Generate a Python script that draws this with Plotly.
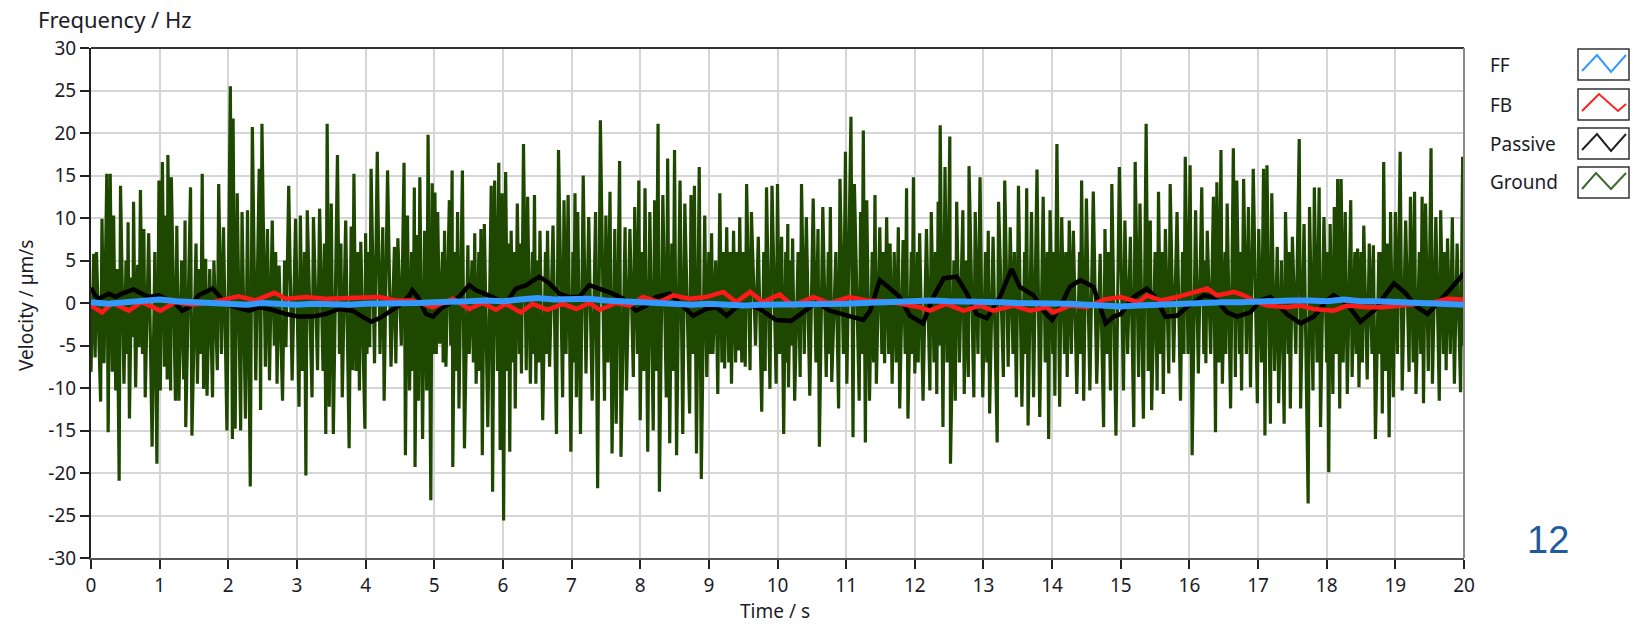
import plotly.graph_objects as go

# ---------------- data (time in s, velocity in um/s) ----------------
ground_0_5 = [(0.00,-8.1),(0.04,5.8),(0.06,-6.4),(0.08,6.0),(0.14,-11.6),(0.16,9.9),(0.19,-7.1),(0.23,15.2),(0.25,-15.2),(0.28,15.2),(0.31,-8.1),(0.33,10.3),(0.36,-10.3),(0.38,4.0),(0.41,-20.9),(0.43,13.8),(0.48,-9.5),(0.51,5.0),(0.53,-6.0),(0.54,9.5),(0.56,-13.6),(0.59,3.0),(0.61,-4.0),(0.62,11.9),(0.65,-9.9),(0.68,4.5),(0.70,-5.2),(0.72,13.3),(0.75,-6.0),(0.77,8.7),(0.79,-11.1),(0.84,8.2),(0.89,-16.9),(0.93,6.0),(0.96,-18.9),(0.99,14.4),(1.01,-10.3),(1.04,16.6),(1.07,-7.5),(1.09,10.3),(1.11,-9.0),(1.12,17.4),(1.16,-10.3),(1.17,14.8),(1.23,-11.5),(1.25,9.1),(1.28,-11.5),(1.32,5.0),(1.35,-9.0),(1.37,9.7),(1.38,-14.6),(1.45,13.6),(1.47,-15.6),(1.53,7.0),(1.55,-9.5),(1.58,4.0),(1.60,-6.0),(1.62,15.2),(1.64,-10.1),(1.67,5.2),(1.69,-10.9),(1.73,4.0),(1.77,-11.1),(1.79,5.0),(1.84,-7.9),(1.86,14.0),(1.90,-6.0),(1.93,8.9),(1.98,-15.0),(2.03,25.5),(2.06,-16.0),(2.07,21.7),(2.10,-14.8),(2.13,12.9),(2.18,-15.0),(2.20,10.7),(2.25,-13.6),(2.28,10.9),(2.32,-21.6),(2.35,20.7),(2.40,-9.1),(2.45,15.8),(2.47,-12.6),(2.49,21.1),(2.54,-7.5),(2.57,8.7),(2.60,-9.1),(2.64,9.7),(2.67,-5.0),(2.69,6.0),(2.71,-9.5),(2.74,4.4),(2.79,-11.5),(2.82,5.0),(2.84,-5.2),(2.88,13.8),(2.93,-9.1),(2.98,9.9),(3.03,-12.2),(3.05,10.3),(3.08,-8.0),(3.11,6.0),(3.13,-20.3),(3.15,10.9),(3.22,-11.1),(3.24,10.1),(3.30,-7.9),(3.33,11.1),(3.38,-8.0),(3.40,7.0),(3.42,-15.4),(3.44,21.1),(3.47,-12.2),(3.50,11.7),(3.53,-15.4),(3.59,17.4),(3.62,-6.0),(3.64,7.0),(3.66,-11.1),(3.71,9.7),(3.76,-17.1),(3.79,9.0),(3.81,-7.9),(3.83,15.2),(3.86,-8.0),(3.89,6.0),(3.91,-10.3),(3.93,7.2),(3.99,-14.8),(4.00,8.2),(4.02,-6.0),(4.05,6.0),(4.06,-5.2),(4.08,15.8),(4.13,-7.1),(4.17,17.8),(4.21,-6.0),(4.25,8.9),(4.27,-11.5),(4.32,15.6),(4.37,-7.5),(4.42,6.6),(4.44,-7.1),(4.47,7.6),(4.52,-5.0),(4.56,16.5),(4.58,-17.9),(4.61,10.3),(4.64,-10.3),(4.67,6.0),(4.69,-8.0),(4.71,13.6),(4.72,-19.3),(4.75,8.0),(4.77,-11.5),(4.79,14.8),(4.83,-16.0),(4.86,8.5),(4.89,-10.3),(4.91,19.8),(4.95,-23.2),(4.97,14.1),(4.99,-6.0)]

ground_5_10 = [(5.01,13.0),(5.03,-6.0),(5.05,10.7),(5.08,-4.8),(5.12,6.0),(5.13,-7.0),(5.15,8.5),(5.17,-7.5),(5.22,12.1),(5.24,-5.0),(5.26,15.6),(5.27,-19.3),(5.30,6.0),(5.32,-8.0),(5.34,10.7),(5.36,-12.4),(5.41,15.6),(5.44,-17.1),(5.49,6.8),(5.51,-6.0),(5.55,5.0),(5.57,-7.0),(5.59,8.2),(5.61,-9.5),(5.65,6.0),(5.66,-8.0),(5.68,8.7),(5.70,-17.9),(5.73,9.3),(5.78,-14.6),(5.83,13.8),(5.85,-22.2),(5.88,14.4),(5.92,-8.0),(5.94,16.5),(5.96,-17.3),(5.99,12.9),(6.01,-25.6),(6.04,15.4),(6.07,-8.0),(6.08,7.0),(6.10,-17.5),(6.12,8.5),(6.15,-7.0),(6.16,6.0),(6.18,-12.4),(6.21,11.7),(6.24,-6.0),(6.25,7.0),(6.27,-8.3),(6.30,18.7),(6.34,-7.9),(6.36,12.5),(6.40,-9.5),(6.43,6.0),(6.44,-6.0),(6.46,12.7),(6.48,-9.5),(6.51,5.0),(6.52,-7.0),(6.54,8.5),(6.58,-13.8),(6.62,6.0),(6.63,-6.0),(6.65,8.5),(6.68,-7.5),(6.73,9.1),(6.78,-15.4),(6.81,18.0),(6.87,-11.1),(6.89,12.1),(6.92,-6.0),(6.95,12.7),(6.99,-17.5),(7.02,6.0),(7.03,-7.0),(7.05,12.9),(7.07,-11.1),(7.09,10.7),(7.13,-15.4),(7.17,15.0),(7.21,-8.3),(7.25,10.1),(7.30,-11.5),(7.35,10.7),(7.38,-21.8),(7.42,21.5),(7.48,-11.5),(7.50,10.3),(7.53,-7.0),(7.56,13.1),(7.59,-17.7),(7.63,8.7),(7.65,-14.2),(7.70,16.7),(7.72,-18.1),(7.78,8.9),(7.80,-10.3),(7.85,8.7),(7.90,-8.7),(7.92,11.3),(7.96,-6.0),(7.98,14.4),(8.00,-13.8),(8.03,6.0),(8.05,-8.0),(8.07,13.5),(8.11,-17.5),(8.14,10.7),(8.19,-15.0),(8.21,12.1),(8.23,-8.0),(8.26,21.1),(8.28,-22.2),(8.33,12.7),(8.38,-11.1),(8.40,17.0),(8.43,-16.5),(8.46,7.0),(8.48,-8.0),(8.50,18.0),(8.53,-17.9),(8.58,14.4),(8.62,-15.4),(8.65,11.7),(8.72,-13.0),(8.74,12.7),(8.77,-6.0),(8.79,13.8),(8.82,-17.7),(8.86,16.0),(8.89,-20.7),(8.94,10.3),(8.97,-8.7),(9.00,6.0),(9.02,-6.0),(9.04,8.2),(9.06,-6.0),(9.10,5.0),(9.13,-10.7),(9.16,12.9),(9.19,-7.0),(9.21,6.0),(9.23,-7.7),(9.26,8.9),(9.29,-7.0),(9.31,6.0),(9.33,-9.5),(9.36,8.5),(9.39,-7.0),(9.41,6.0),(9.43,-5.6),(9.45,10.1),(9.48,-7.0),(9.50,6.0),(9.53,-7.5),(9.55,14.0),(9.60,-7.9),(9.62,10.7),(9.68,-5.0),(9.72,7.8),(9.77,-12.8),(9.80,6.0),(9.82,-8.0),(9.84,13.6),(9.89,-10.1),(9.92,13.8),(9.98,-9.5),(10.00,14.0)]

ground_10_15 = [(10.03,-6.0),(10.06,7.8),(10.09,-15.4),(10.12,6.0),(10.13,-7.0),(10.15,9.3),(10.16,-9.9),(10.19,5.0),(10.20,-5.0),(10.22,7.6),(10.25,-11.5),(10.30,6.0),(10.33,-8.7),(10.35,14.0),(10.39,-6.0),(10.42,10.1),(10.47,-10.9),(10.52,12.3),(10.56,-7.0),(10.59,8.7),(10.61,-16.9),(10.66,11.3),(10.71,-8.7),(10.74,6.0),(10.75,-6.0),(10.77,11.3),(10.79,-9.3),(10.85,6.0),(10.89,-12.4),(10.91,14.6),(10.96,-6.0),(10.99,17.8),(11.01,-9.5),(11.07,21.9),(11.10,-15.8),(11.12,14.0),(11.19,-11.5),(11.21,10.7),(11.23,-6.0),(11.25,20.3),(11.28,-16.4),(11.30,12.1),(11.34,-11.5),(11.38,6.0),(11.40,-7.0),(11.42,12.7),(11.44,-9.5),(11.49,8.9),(11.52,-6.0),(11.54,6.0),(11.56,-7.1),(11.59,10.1),(11.62,-6.0),(11.64,7.0),(11.67,-9.5),(11.70,6.0),(11.73,-7.0),(11.76,8.9),(11.78,-12.4),(11.83,7.4),(11.86,-6.0),(11.88,13.5),(11.90,-13.6),(11.95,6.0),(11.96,-6.0),(11.98,14.8),(12.00,-8.3),(12.04,6.0),(12.05,-7.0),(12.07,8.2),(12.12,-11.5),(12.17,8.7),(12.22,-10.3),(12.24,10.7),(12.28,-7.0),(12.30,6.0),(12.32,-10.7),(12.34,11.9),(12.355,-5.0),(12.37,20.9),(12.41,-14.6),(12.44,16.0),(12.47,-7.0),(12.51,19.6),(12.52,-18.9),(12.57,5.0),(12.59,-11.5),(12.61,11.9),(12.65,-7.0),(12.70,10.9),(12.72,-10.7),(12.75,5.0),(12.78,-8.7),(12.79,16.1),(12.86,-11.1),(12.88,10.7),(12.92,-6.0),(12.95,14.8),(12.99,-11.1),(13.03,6.0),(13.05,-7.0),(13.07,8.5),(13.09,-13.0),(13.14,7.8),(13.20,-16.4),(13.22,11.9),(13.29,-8.7),(13.31,14.4),(13.36,-7.5),(13.39,8.9),(13.43,-6.0),(13.45,6.0),(13.48,-11.1),(13.51,13.8),(13.56,-12.2),(13.60,6.0),(13.61,-6.0),(13.63,13.5),(13.65,-14.4),(13.70,10.7),(13.73,-11.1),(13.78,15.7),(13.82,-13.4),(13.87,12.5),(13.90,-7.0),(13.93,6.0),(13.95,-16.0),(13.97,10.9),(14.01,-6.0),(14.02,6.0),(14.04,-10.9),(14.07,18.7),(14.11,-12.2),(14.14,10.1),(14.18,-6.0),(14.20,6.0),(14.22,-8.7),(14.25,9.7),(14.28,-6.0),(14.31,8.5),(14.36,-10.7),(14.40,6.0),(14.41,-6.0),(14.43,14.4),(14.46,-11.5),(14.50,12.3),(14.55,-10.3),(14.60,13.1),(14.65,-9.5),(14.70,5.8),(14.75,-14.6),(14.77,8.7),(14.80,-6.0),(14.82,6.0),(14.85,-10.3),(14.87,14.0),(14.93,-15.6),(14.98,16.0)]

ground_15_20 = [(15.04,-10.3),(15.06,9.7),(15.10,-6.0),(15.14,7.8),(15.19,-14.6),(15.21,16.6),(15.26,-8.7),(15.28,11.7),(15.33,-13.6),(15.37,21.1),(15.40,-8.0),(15.43,9.7),(15.45,-12.6),(15.50,6.0),(15.53,-10.3),(15.55,13.1),(15.58,-6.0),(15.60,6.0),(15.62,-10.7),(15.65,8.7),(15.70,-8.3),(15.72,14.0),(15.77,-7.0),(15.82,10.7),(15.87,-11.5),(15.90,6.0),(15.92,-6.0),(15.94,17.2),(15.98,-6.0),(16.01,16.2),(16.04,-17.9),(16.09,10.9),(16.13,-8.3),(16.18,13.6),(16.21,-6.0),(16.22,5.0),(16.24,-7.1),(16.26,8.5),(16.31,-6.0),(16.35,12.5),(16.38,-15.2),(16.40,14.2),(16.43,-7.0),(16.46,18.0),(16.48,-9.5),(16.52,6.0),(16.53,-6.0),(16.55,11.7),(16.60,-12.4),(16.64,18.2),(16.67,-8.7),(16.69,14.4),(16.73,-6.0),(16.74,6.0),(16.76,-10.3),(16.79,14.6),(16.83,-6.0),(16.86,11.3),(16.89,-9.9),(16.93,15.8),(16.99,-11.8),(17.01,8.7),(17.05,-7.0),(17.08,15.8),(17.10,-15.6),(17.13,16.2),(17.18,-14.2),(17.20,12.9),(17.24,-8.0),(17.28,6.6),(17.30,-11.8),(17.34,5.0),(17.38,-14.2),(17.40,10.7),(17.44,-6.0),(17.45,6.0),(17.47,-12.4),(17.50,7.8),(17.55,-6.0),(17.60,19.3),(17.62,-12.4),(17.67,9.3),(17.73,-23.6),(17.75,11.3),(17.80,-10.3),(17.82,13.6),(17.86,-7.0),(17.89,13.6),(17.91,-14.6),(17.96,10.1),(18.00,-7.0),(18.01,6.0),(18.03,-19.9),(18.05,9.3),(18.09,-10.7),(18.11,11.3),(18.14,-6.0),(18.16,14.6),(18.19,-12.4),(18.21,14.6),(18.24,-7.0),(18.27,10.7),(18.30,-10.7),(18.35,12.1),(18.37,-8.7),(18.41,6.0),(18.43,-6.0),(18.45,6.4),(18.47,-9.9),(18.50,6.0),(18.52,-7.0),(18.54,9.1),(18.59,-9.0),(18.62,7.0),(18.66,-6.0),(18.68,6.8),(18.71,-16.0),(18.76,6.0),(18.78,-6.0),(18.79,6.0),(18.81,-13.0),(18.83,16.6),(18.86,-8.0),(18.88,7.0),(18.91,-15.8),(18.93,10.7),(18.97,-11.1),(19.00,10.7),(19.03,-6.0),(19.07,17.8),(19.10,-10.3),(19.15,9.7),(19.20,-8.1),(19.22,12.5),(19.26,-7.0),(19.28,13.1),(19.30,-10.7),(19.35,6.0),(19.37,-6.0),(19.39,12.5),(19.41,-11.8),(19.44,11.7),(19.48,-8.0),(19.52,18.2),(19.54,-9.5),(19.59,10.1),(19.64,-11.5),(19.66,10.9),(19.70,-6.0),(19.72,6.0),(19.74,-7.9),(19.76,7.6),(19.80,-6.0),(19.83,10.1),(19.86,-9.5),(19.90,7.0),(19.95,-10.5),(19.98,17.2),(20.00,-5.0)]

passive_pts = [(0.00,1.8),(0.06,0.9),(0.11,0.5),(0.26,1.1),(0.36,0.7),(0.45,1.1),(0.62,1.6),(0.74,1.1),(0.84,0.7),(0.99,0.9),(1.08,0.5),(1.23,-0.1),(1.33,-0.9),(1.43,-0.5),(1.57,0.9),(1.69,1.4),(1.77,1.7),(1.86,0.9),(1.96,-0.1),(2.11,-0.5),(2.30,-0.9),(2.45,-0.5),(2.64,-0.8),(2.84,-1.3),(3.03,-1.6),(3.22,-1.6),(3.42,-1.3),(3.61,-0.7),(3.81,-0.9),(3.95,-1.6),(4.08,-2.2),(4.20,-1.8),(4.34,-1.1),(4.49,-0.3),(4.64,0.9),(4.68,1.5),(4.76,0.7),(4.88,-1.3),(4.98,-1.6),(5.12,-0.5),(5.27,0.1),(5.36,0.7),(5.51,2.1),(5.61,1.5),(5.73,1.1),(5.85,0.7),(6.04,-0.1),(6.19,1.7),(6.34,2.1),(6.53,3.1),(6.68,2.3),(6.82,1.1),(6.97,0.7),(7.11,0.7),(7.26,2.1),(7.41,1.7),(7.60,1.1),(7.75,0.5),(7.94,-0.9),(8.09,-0.3),(8.23,0.7),(8.43,1.1),(8.62,-0.3),(8.77,-1.5),(8.96,-0.7),(9.11,-0.5),(9.26,-1.5),(9.40,-0.5),(9.55,-0.1),(9.74,-0.7),(9.98,-2.0),(10.15,-2.0),(10.20,-2.1),(10.37,-1.1),(10.57,0.1),(10.76,-0.9),(11.00,-1.5),(11.25,-2.0),(11.35,-0.9),(11.49,2.7),(11.64,1.7),(11.78,0.7),(11.93,-1.5),(12.12,-2.4),(12.27,0.7),(12.42,2.9),(12.61,3.1),(12.76,1.1),(12.90,-1.3),(13.05,-1.8),(13.24,0.7),(13.41,4.0),(13.53,1.9),(13.73,0.9),(13.87,-0.9),(14.00,-2.0),(14.14,-0.1),(14.26,1.9),(14.41,2.7),(14.60,1.9),(14.78,-2.4),(14.90,-1.6),(15.00,-1.3),(15.19,0.7),(15.38,1.7),(15.50,0.7),(15.65,-1.6),(15.82,-1.5),(15.96,-0.5),(16.21,0.9),(16.35,0.7),(16.55,-1.1),(16.69,-1.6),(16.89,-1.1),(17.03,0.3),(17.18,0.7),(17.42,-1.3),(17.62,-2.4),(17.81,-1.6),(18.01,0.3),(18.10,0.9),(18.30,-0.1),(18.49,-2.2),(18.69,-0.9),(18.83,0.7),(18.98,2.3),(19.13,1.3),(19.32,-0.5),(19.47,-1.3),(19.66,0.3),(19.81,1.7),(20.00,3.5)]

fb_pts = [(0.00,-0.3),(0.16,-1.1),(0.31,0.0),(0.55,-0.9),(0.74,0.1),(1.01,-0.9),(1.23,0.1),(1.47,-0.2),(1.77,0.1),(2.15,0.8),(2.40,0.3),(2.67,1.2),(2.84,0.5),(3.13,0.7),(3.42,0.5),(3.71,0.6),(4.20,0.7),(4.44,0.3),(4.68,0.3),(4.98,-0.5),(5.27,0.5),(5.51,-0.7),(5.70,0.0),(5.90,-0.8),(6.04,-0.1),(6.26,-1.1),(6.43,-0.1),(6.65,-0.8),(6.87,-0.1),(7.07,-0.7),(7.26,0.0),(7.41,-0.8),(7.65,0.0),(7.85,-0.3),(8.04,0.7),(8.28,0.1),(8.48,0.9),(8.72,0.5),(8.96,0.7),(9.21,1.3),(9.40,0.1),(9.60,1.3),(9.79,0.1),(10.03,1.0),(10.22,-0.3),(10.52,0.7),(10.76,0.0),(11.05,0.7),(11.30,0.3),(11.59,0.2),(11.88,-0.3),(12.07,-0.5),(12.22,-0.9),(12.46,-0.1),(12.71,-0.9),(12.95,-0.3),(13.14,-0.9),(13.44,-0.3),(13.68,-0.9),(13.92,-0.5),(14.02,-1.1),(14.26,-0.3),(14.51,-0.5),(14.75,0.4),(15.00,0.7),(15.26,0.1),(15.38,0.9),(15.58,0.3),(15.82,0.7),(16.06,1.2),(16.26,1.7),(16.40,0.9),(16.65,1.3),(16.79,0.9),(16.99,0.1),(17.13,-0.3),(17.42,-0.5),(17.62,-0.3),(17.81,-0.7),(18.10,-0.9),(18.30,-0.3),(18.59,-0.5),(18.83,-0.5),(19.08,-0.3),(19.37,-0.1),(19.57,0.1),(19.76,0.5),(20.00,0.4)]

ff_pts = [(0.00,0.1),(0.25,-0.1),(0.50,0.1),(0.75,0.3),(1.00,0.4),(1.25,0.2),(1.50,0.1),(1.75,0.0),(2.00,-0.1),(2.25,-0.2),(2.50,0.0),(2.75,-0.1),(3.00,-0.2),(3.25,-0.1),(3.50,-0.2),(3.75,-0.2),(4.00,-0.1),(4.25,-0.1),(4.50,0.0),(4.75,0.0),(5.00,0.1),(5.25,0.1),(5.50,0.2),(5.75,0.3),(6.00,0.2),(6.25,0.4),(6.50,0.6),(6.75,0.4),(7.00,0.4),(7.25,0.5),(7.50,0.3),(7.75,0.2),(8.00,0.1),(8.25,0.0),(8.50,-0.1),(8.75,-0.2),(9.00,-0.1),(9.25,-0.2),(9.50,-0.3),(9.75,-0.2),(10.00,-0.2),(10.25,-0.2),(10.50,-0.1),(10.75,-0.2),(11.00,-0.1),(11.25,0.0),(11.50,0.1),(11.75,0.1),(12.00,0.2),(12.25,0.3),(12.50,0.2),(12.75,0.2),(13.00,0.1),(13.25,0.1),(13.50,0.0),(13.75,0.0),(14.00,0.0),(14.25,-0.1),(14.50,-0.2),(14.75,-0.3),(15.00,-0.4),(15.25,-0.3),(15.50,-0.2),(15.75,-0.1),(16.00,-0.1),(16.25,0.0),(16.50,0.1),(16.75,0.1),(17.00,0.2),(17.25,0.2),(17.50,0.3),(17.75,0.3),(18.00,0.2),(18.25,0.4),(18.50,0.2),(18.75,0.2),(19.00,0.1),(19.25,0.0),(19.50,0.0),(19.75,-0.1),(20.00,-0.2)]

x_ticks = list(range(0, 21))
y_ticks = list(range(-30, 31, 5))
legend_names = ["FF", "FB", "Passive", "Ground"]
series_colors = {"FF": "#3399ff", "FB": "#ff1a1a", "Passive": "#000000", "Ground": "#1e4800"}
legend_icon_colors = {"FF": "#3399ff", "FB": "#ff2020", "Passive": "#222222", "Ground": "#3d6b2e"}
page_number = "12"

# ---------------- layout geometry ----------------
W, H = 1639, 625
ML, MR, MT, MB = 91, 175, 48, 67
PW, PH = W - ML - MR, H - MT - MB


def px(x):
    return (x - ML) / PW


def py(y):
    return 1 - (y - MT) / PH


FONT = "Noto Sans"
TXT = "#1c1c28"

fig = go.Figure()

ground = ground_0_5 + ground_5_10 + ground_10_15 + ground_15_20
series = [
    ("Ground", ground, 3.2),
    ("Passive", passive_pts, 4.5),
    ("FB", fb_pts, 4.5),
    ("FF", ff_pts, 6.0),
]
for name, pts, w in series:
    fig.add_trace(go.Scatter(
        x=[p[0] for p in pts], y=[p[1] for p in pts],
        mode="lines", name=name, showlegend=False, hoverinfo="skip",
        line=dict(color=series_colors[name], width=w),
    ))

fig.update_xaxes(
    range=[0, 20], tickvals=x_ticks, ticktext=[str(v) for v in x_ticks],
    showgrid=True, gridcolor="#d6d6d6", gridwidth=1.5,
    showline=True, linecolor="#555555", linewidth=2,
    ticks="outside", ticklen=9, tickwidth=2, tickcolor="#222222",
    tickfont=dict(family=FONT, size=19, color=TXT), zeroline=False,
)
fig.update_yaxes(
    range=[-30, 30], tickvals=y_ticks, ticktext=[str(v) for v in y_ticks],
    showgrid=True, gridcolor="#d6d6d6", gridwidth=1.5,
    showline=True, linecolor="#222222", linewidth=2,
    ticks="outside", ticklen=9, tickwidth=2, tickcolor="#222222",
    tickfont=dict(family=FONT, size=19, color=TXT), zeroline=False,
)

shapes = [
    dict(type="line", xref="paper", yref="paper", x0=0, x1=1, y0=1, y1=1,
         line=dict(color="#333333", width=2)),
    dict(type="line", xref="paper", yref="paper", x0=1, x1=1, y0=0, y1=1,
         line=dict(color="#8a8a8a", width=2)),
]
annotations = [
    dict(text="Frequency / Hz", xref="paper", yref="paper", x=px(36), y=py(19),
         xanchor="left", yanchor="middle", showarrow=False,
         font=dict(family=FONT, size=22, color=TXT)),
    dict(text="Velocity / µm/s", xref="paper", yref="paper", x=px(26), y=py(306),
         xanchor="center", yanchor="middle", textangle=-90, showarrow=False,
         font=dict(family=FONT, size=19, color=TXT)),
    dict(text="Time / s", xref="paper", yref="paper", x=px(775), y=py(611),
         xanchor="center", yanchor="middle", showarrow=False,
         font=dict(family=FONT, size=19, color=TXT)),
    dict(text=page_number, xref="paper", yref="paper", x=px(1548), y=py(540),
         xanchor="center", yanchor="middle", showarrow=False,
         font=dict(family="Liberation Sans", size=38, color="#1f5c9e")),
]

label_x = 1488
box_x0, box_w, box_h = 1578, 51, 31
row_top = [49, 89, 128, 167]
zig = {"FF": [(4, 22), (19, 6), (33, 23), (48, 6)],
       "FB": [(4, 22), (21, 5), (40, 22), (48, 15)],
       "Passive": [(4, 22), (19, 6), (33, 23), (48, 6)],
       "Ground": [(4, 22), (18, 6), (33, 22), (48, 6)]}
for name, top in zip(legend_names, row_top):
    annotations.append(dict(text=name, xref="paper", yref="paper", x=px(label_x),
                            y=py(top + box_h / 2), xanchor="left", yanchor="middle",
                            showarrow=False, font=dict(family=FONT, size=19, color=TXT)))
    shapes.append(dict(type="rect", xref="paper", yref="paper",
                       x0=px(box_x0), x1=px(box_x0 + box_w), y0=py(top + box_h), y1=py(top),
                       line=dict(color="#333333", width=1.5), fillcolor="white"))
    pts = zig[name]
    path = "M " + " L ".join(f"{px(box_x0 + a):.5f},{py(top + b):.5f}" for a, b in pts)
    shapes.append(dict(type="path", xref="paper", yref="paper", path=path,
                       line=dict(color=legend_icon_colors[name], width=2)))

fig.update_layout(
    width=W, height=H, margin=dict(l=ML, r=MR, t=MT, b=MB, autoexpand=False),
    paper_bgcolor="white", plot_bgcolor="white", showlegend=False,
    shapes=shapes, annotations=annotations, hovermode=False,
)

fig.write_html("out.html", config={"displayModeBar": False},
               post_script="document.body.style.margin='0px';document.body.style.overflow='hidden';")
